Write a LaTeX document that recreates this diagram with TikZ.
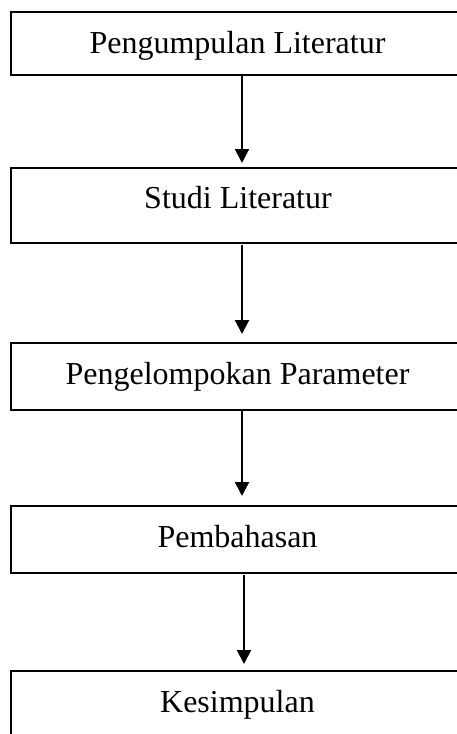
\documentclass[tikz,border=0pt]{standalone}
\usepackage{fontspec}
\setmainfont{Liberation Serif}
\usetikzlibrary{arrows.meta}
\begin{document}
\begin{tikzpicture}[x=1pt,y=-1pt,
  box/.style={draw=black, line width=2.6pt, rectangle, minimum width=453pt, inner sep=0pt, outer sep=0pt},
  lbl/.style={anchor=base, inner sep=0pt, font=\fontsize{32}{38}\selectfont},
  arr/.style={draw=black, line width=2pt, -{Triangle[length=14pt,width=14pt]}}]
\useasboundingbox (0,0) rectangle (457,734);
\clip (0,0) rectangle (457,734);
\node[box, minimum height=63pt] (b1) at (237.5,43.5) {};
\node[box, minimum height=75pt] (b2) at (237.5,205.5) {};
\node[box, minimum height=67pt] (b3) at (237.5,376.5) {};
\node[box, minimum height=67pt] (b4) at (237.5,539.5) {};
\node[box, minimum height=90pt] (b5) at (237.5,716) {};
\node[lbl] (t1) at (237.5,53) {Pengumpulan Literatur};
\node[lbl] (t2) at (238,208) {Studi Literatur};
\node[lbl] (t3) at (237.5,384) {Pengelompokan Parameter};
\node[lbl] (t4) at (237.5,547) {Pembahasan};
\node[lbl] (t5) at (237.5,712) {Kesimpulan};
\coordinate (ax) at (242,0);
\coordinate (ay) at (244,0);
\draw[arr, shorten >=5pt] (b1.south -| ax) -- (b2.north -| ax);
\draw[arr, shorten <=2pt, shorten >=9pt] (b2.south -| ax) -- (b3.north -| ax);
\draw[arr, shorten >=10pt] (b3.south -| ax) -- (b4.north -| ax);
\draw[arr, shorten <=2pt, shorten >=7pt] (b4.south -| ay) -- (b5.north -| ay);
\end{tikzpicture}
\end{document}
